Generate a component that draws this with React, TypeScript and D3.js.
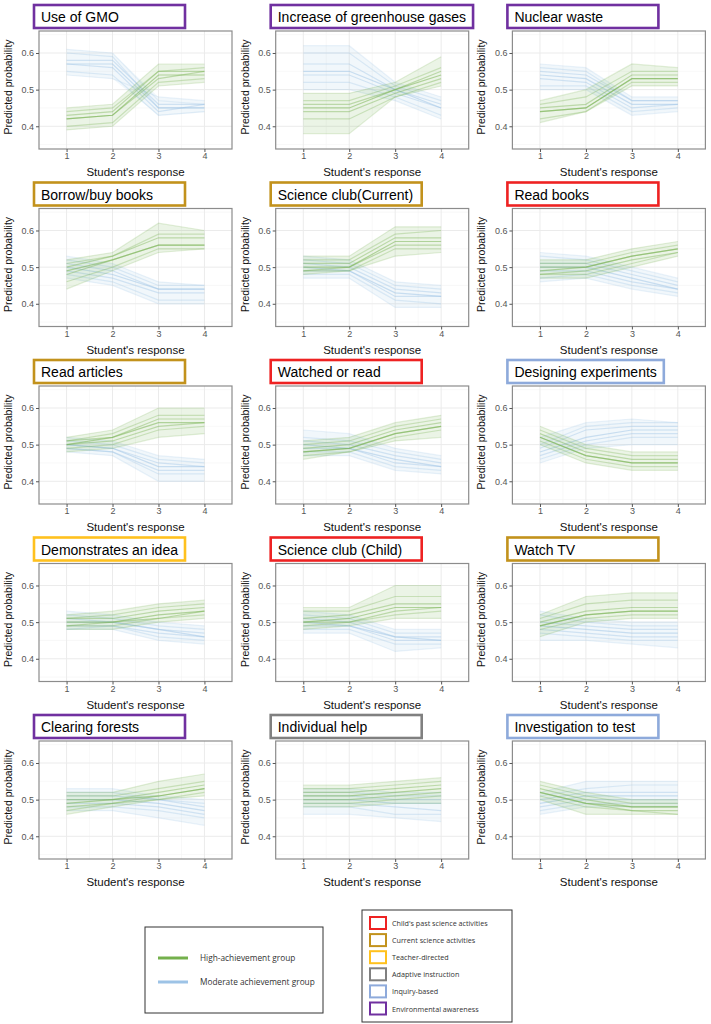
import React, { useEffect, useRef } from "react";
import * as d3 from "d3";

// x positions (student's response) and y tick values
const responses = [1, 2, 3, 4];
const yTicks = [0.4, 0.5, 0.6];

const panelTitles = [
  "Use of GMO",
  "Increase of greenhouse gases",
  "Nuclear waste",
  "Borrow/buy books",
  "Science club(Current)",
  "Read books",
  "Read articles",
  "Watched or read",
  "Designing experiments",
  "Demonstrates an idea",
  "Science club (Child)",
  "Watch TV",
  "Clearing forests",
  "Individual help",
  "Investigation to test",
];

// index into itemGroups for each panel
const panelGroup = [5, 5, 5, 1, 1, 0, 1, 0, 4, 2, 0, 1, 5, 3, 4];

const itemGroups = [
  "Child's past science activities",
  "Current science activities",
  "Teacher-directed",
  "Adaptive instruction",
  "Inquiry-based",
  "Environmental awareness",
];
const itemGroupColors = ["#ee2222", "#c2921c", "#ffc11e", "#808080", "#8eaadb", "#7030a0"];

const seriesNames = ["High-achievement group", "Moderate achievement group"];
const seriesColors = ["#74b04c", "#9dc3e6"];

// predicted probability (%) at responses 1..4, several fitted lines per panel
const highLines = [
  [[45, 46, 57, 57], [44, 45, 55, 56], [43, 44, 55, 55], [42, 43, 54, 54], [42, 43, 53, 55], [40, 41, 52, 53], [39, 40, 51, 52]],
  [[49, 49, 52, 59], [47, 47, 51, 56], [46, 46, 50, 55], [45, 45, 50, 54], [44, 44, 49, 53], [42, 42, 48, 52], [38, 38, 48, 51]],
  [[47, 50, 57, 56], [46, 48, 55, 55], [45, 46, 54, 54], [44, 45, 53, 53], [44, 45, 53, 53], [42, 44, 52, 52], [41, 44, 51, 51]],
  [[52, 54, 62, 60], [51, 53, 59, 59], [50, 53, 58, 58], [49, 52, 56, 56], [48, 52, 56, 56], [46, 50, 55, 55], [44, 49, 54, 55]],
  [[53, 53, 61, 61], [52, 52, 59, 60], [51, 51, 58, 58], [50, 50, 57, 57], [49, 50, 56, 56], [49, 49, 55, 55], [48, 49, 53, 54]],
  [[52, 52, 55, 57], [51, 51, 54, 56], [50, 50, 53, 55], [49, 50, 53, 55], [48, 49, 52, 54], [48, 48, 51, 54], [47, 47, 50, 53]],
  [[52, 54, 60, 60], [51, 53, 58, 58], [51, 52, 57, 57], [50, 52, 56, 56], [50, 51, 55, 56], [49, 50, 54, 55], [48, 49, 52, 53]],
  [[51, 52, 56, 58], [50, 51, 55, 57], [49, 50, 54, 56], [48, 49, 53, 55], [48, 49, 53, 55], [47, 48, 52, 54], [46, 48, 51, 52]],
  [[55, 50, 48, 48], [54, 49, 47, 47], [53, 48, 46, 46], [52, 47, 45, 45], [52, 47, 45, 45], [51, 46, 44, 44], [50, 45, 43, 43]],
  [[52, 53, 55, 56], [51, 52, 54, 55], [51, 51, 53, 54], [50, 50, 52, 53], [49, 50, 51, 53], [49, 49, 51, 52], [48, 48, 50, 51]],
  [[54, 54, 60, 60], [53, 53, 57, 57], [51, 52, 55, 55], [50, 51, 54, 54], [50, 50, 53, 54], [49, 50, 52, 53], [48, 49, 51, 51]],
  [[52, 57, 58, 58], [51, 55, 56, 56], [50, 53, 54, 54], [49, 52, 53, 53], [49, 52, 53, 53], [48, 51, 52, 52], [46, 50, 51, 51]],
  [[52, 52, 55, 57], [51, 51, 53, 55], [50, 50, 52, 54], [49, 50, 51, 53], [48, 49, 51, 53], [47, 49, 50, 52], [46, 48, 50, 51]],
  [[54, 54, 55, 56], [53, 53, 54, 55], [52, 52, 53, 54], [51, 51, 52, 53], [50, 50, 51, 52], [49, 49, 50, 51], [48, 48, 49, 49]],
  [[55, 52, 50, 50], [54, 51, 49, 49], [53, 50, 48, 48], [52, 49, 48, 48], [52, 49, 47, 47], [51, 48, 47, 46], [50, 46, 46, 46]],
];

const moderateLines = [
  [[61, 60, 47, 46], [60, 59, 45, 45], [58, 58, 46, 46], [57, 57, 45, 45], [57, 56, 44, 46], [55, 54, 43, 44], [54, 53, 48, 47]],
  [[62, 62, 52, 48], [60, 60, 51, 47], [57, 57, 50, 46], [55, 55, 50, 45], [54, 54, 49, 45], [52, 52, 48, 43], [50, 50, 47, 42]],
  [[57, 56, 48, 48], [56, 55, 47, 47], [55, 54, 47, 47], [54, 53, 46, 46], [53, 52, 45, 46], [51, 51, 44, 45], [50, 50, 43, 44]],
  [[53, 51, 46, 45], [52, 50, 45, 45], [51, 49, 44, 44], [50, 48, 44, 44], [49, 47, 43, 43], [48, 46, 41, 41], [47, 45, 40, 40]],
  [[53, 52, 46, 45], [52, 51, 45, 44], [51, 50, 44, 43], [50, 49, 43, 42], [49, 49, 42, 42], [48, 48, 41, 40], [47, 47, 39, 39]],
  [[54, 53, 50, 47], [53, 52, 49, 46], [51, 51, 48, 45], [50, 50, 47, 44], [49, 49, 46, 44], [47, 48, 45, 43], [46, 47, 44, 42]],
  [[52, 51, 47, 46], [51, 50, 46, 45], [50, 49, 45, 44], [50, 49, 44, 44], [49, 48, 43, 43], [49, 48, 42, 42], [48, 47, 40, 40]],
  [[54, 53, 49, 47], [52, 51, 48, 46], [51, 50, 47, 45], [50, 49, 46, 44], [49, 49, 45, 44], [48, 48, 44, 43], [47, 47, 43, 42]],
  [[52, 56, 57, 56], [50, 55, 56, 56], [49, 54, 55, 55], [48, 52, 54, 54], [47, 51, 53, 53], [46, 50, 52, 52], [45, 49, 50, 50]],
  [[53, 52, 50, 49], [52, 51, 49, 48], [51, 50, 48, 47], [50, 50, 48, 46], [49, 49, 47, 46], [48, 49, 46, 45], [48, 48, 45, 44]],
  [[53, 52, 48, 48], [52, 51, 47, 47], [51, 50, 46, 46], [50, 49, 46, 45], [49, 49, 45, 45], [48, 48, 44, 44], [47, 47, 42, 43]],
  [[53, 51, 50, 50], [52, 50, 49, 49], [50, 49, 48, 48], [49, 48, 47, 47], [48, 47, 46, 46], [47, 46, 45, 45], [45, 45, 44, 43]],
  [[53, 53, 51, 50], [52, 52, 50, 49], [51, 51, 50, 48], [50, 50, 49, 47], [49, 49, 48, 46], [48, 48, 47, 45], [47, 47, 45, 43]],
  [[53, 53, 52, 52], [52, 52, 51, 51], [51, 51, 50, 50], [50, 50, 49, 49], [49, 49, 48, 47], [48, 48, 46, 46], [46, 46, 45, 44]],
  [[52, 55, 55, 55], [51, 53, 54, 54], [50, 52, 52, 52], [49, 51, 51, 51], [48, 50, 50, 50], [47, 49, 49, 49], [46, 48, 48, 48]],
];

const FONT = "'Liberation Sans', Arial, sans-serif";
const LEGEND_FONT = "'Open Sans', 'Noto Sans', sans-serif";

const App = () => {
  const svgRef = useRef(null);

  useEffect(() => {
    const svg = d3.select(svgRef.current);
    svg.selectAll("*").remove();

    const W = 193;
    const H = 118;
    const x = d3.scaleLinear().domain([0.4, 4.6]).range([0, W]);
    const y = d3.scaleLinear().domain([0.338, 0.66]).range([H, 0]);

    const line = d3
      .line()
      .x((d, i) => x(responses[i]))
      .y((d) => y(d / 100));

    const band = d3
      .area()
      .x((d) => x(d.r))
      .y0((d) => y(d.lo / 100))
      .y1((d) => y(d.hi / 100));

    // minor gridlines sit halfway between the major ones
    const xMinor = d3.pairs(responses).map(([a, b]) => (a + b) / 2);
    const yMinor = [0.35, ...d3.pairs(yTicks).map(([a, b]) => (a + b) / 2), 0.65];

    panelTitles.forEach((title, p) => {
      const col = p % 3;
      const row = Math.floor(p / 3);
      const g = svg
        .append("g")
        .attr("transform", `translate(${39 + col * 236.7},${31 + row * 177.5})`);

      // grid
      g.selectAll(".xminor")
        .data(xMinor)
        .join("line")
        .attr("x1", (d) => x(d))
        .attr("x2", (d) => x(d))
        .attr("y1", 0)
        .attr("y2", H)
        .attr("stroke", "#f4f4f4")
        .attr("stroke-width", 0.6);
      g.selectAll(".yminor")
        .data(yMinor)
        .join("line")
        .attr("x1", 0)
        .attr("x2", W)
        .attr("y1", (d) => y(d))
        .attr("y2", (d) => y(d))
        .attr("stroke", "#f4f4f4")
        .attr("stroke-width", 0.6);
      g.selectAll(".xmajor")
        .data(responses)
        .join("line")
        .attr("x1", (d) => x(d))
        .attr("x2", (d) => x(d))
        .attr("y1", 0)
        .attr("y2", H)
        .attr("stroke", "#ebebeb")
        .attr("stroke-width", 1);
      g.selectAll(".ymajor")
        .data(yTicks)
        .join("line")
        .attr("x1", 0)
        .attr("x2", W)
        .attr("y1", (d) => y(d))
        .attr("y2", (d) => y(d))
        .attr("stroke", "#ebebeb")
        .attr("stroke-width", 1);

      // moderate group first, high group drawn over it
      [moderateLines[p], highLines[p]].forEach((lines, s) => {
        const color = seriesColors[1 - s];
        const mid = (lines.length - 1) / 2;
        const env = responses.map((r, i) => ({
          r,
          lo: d3.min(lines, (l) => l[i]),
          hi: d3.max(lines, (l) => l[i]),
        }));
        g.append("path")
          .attr("d", band(env))
          .attr("fill", color)
          .attr("fill-opacity", 0.14);
        // outer lines fainter so the bundle fades at its edges
        g.append("g")
          .selectAll("path")
          .data(lines)
          .join("path")
          .attr("d", (d) => line(d))
          .attr("fill", "none")
          .attr("stroke", color)
          .attr("stroke-opacity", (d, i) => 0.5 - 0.1 * Math.abs(i - mid))
          .attr("stroke-width", 1.2);
      });

      // panel border
      g.append("rect")
        .attr("width", W)
        .attr("height", H)
        .attr("fill", "none")
        .attr("stroke", "#8c8c8c")
        .attr("stroke-width", 1.2);

      const yAxis = g
        .append("g")
        .call(d3.axisLeft(y).tickValues(yTicks).tickSize(3).tickPadding(2).tickFormat(d3.format(".1f")));
      const xAxis = g
        .append("g")
        .attr("transform", `translate(0,${H})`)
        .call(d3.axisBottom(x).tickValues(responses).tickSize(3).tickPadding(1).tickFormat(d3.format("d")));
      [yAxis, xAxis].forEach((a) => {
        a.select(".domain").remove();
        a.selectAll("line").attr("stroke", "#555");
        a.selectAll("text")
          .attr("fill", "#555")
          .attr("font-size", 9)
          .attr("font-family", FONT);
      });

      g.append("text")
        .attr("x", W / 2)
        .attr("y", H + 27)
        .attr("text-anchor", "middle")
        .attr("font-size", 11.5)
        .attr("font-family", FONT)
        .attr("fill", "#111")
        .text("Student's response");

      g.append("text")
        .attr("transform", `translate(-27,${H / 2 - 3}) rotate(-90)`)
        .attr("text-anchor", "middle")
        .attr("font-size", 10.5)
        .attr("font-family", FONT)
        .attr("fill", "#111")
        .text("Predicted probability");

      // title box coloured by item group
      const tg = g.append("g").attr("transform", "translate(-5,-26)");
      const rect = tg.append("rect");
      const txt = tg
        .append("text")
        .attr("x", 7)
        .attr("y", 17)
        .attr("font-size", 14)
        .attr("font-family", FONT)
        .attr("fill", "#000")
        .text(title);
      const tw = txt.node().getComputedTextLength();
      rect
        .attr("width", Math.max(151, tw + 14))
        .attr("height", 23)
        .attr("fill", "#fff")
        .attr("stroke", itemGroupColors[panelGroup[p]])
        .attr("stroke-width", 2.6);
    });

    // series legend
    const lg = svg.append("g").attr("transform", "translate(145,927)");
    lg.append("rect")
      .attr("width", 178)
      .attr("height", 86)
      .attr("fill", "#fff")
      .attr("stroke", "#333")
      .attr("stroke-width", 1);
    seriesNames.forEach((name, i) => {
      lg.append("line")
        .attr("x1", 13)
        .attr("x2", 43)
        .attr("y1", 31 + i * 24)
        .attr("y2", 31 + i * 24)
        .attr("stroke", seriesColors[i])
        .attr("stroke-width", 3);
      lg.append("text")
        .attr("x", 55)
        .attr("y", 34 + i * 24)
        .attr("font-size", 8.3)
        .attr("font-family", LEGEND_FONT)
        .attr("fill", "#333")
        .text(name);
    });

    // item group legend
    const kg = svg.append("g").attr("transform", "translate(362,910)");
    kg.append("rect")
      .attr("width", 150)
      .attr("height", 112)
      .attr("fill", "#fff")
      .attr("stroke", "#333")
      .attr("stroke-width", 1);
    itemGroups.forEach((name, i) => {
      kg.append("rect")
        .attr("x", 8)
        .attr("y", 7 + i * 17.1)
        .attr("width", 16)
        .attr("height", 12)
        .attr("fill", "#fff")
        .attr("stroke", itemGroupColors[i])
        .attr("stroke-width", 2);
      kg.append("text")
        .attr("x", 30)
        .attr("y", 16 + i * 17.1)
        .attr("font-size", 7.2)
        .attr("font-family", LEGEND_FONT)
        .attr("fill", "#333")
        .text(name);
    });
  }, []);

  return (
    <svg
      ref={svgRef}
      width={711}
      height={1024}
      style={{ position: "absolute", left: 0, top: 0, background: "#fff" }}
    />
  );
};

export default App;
